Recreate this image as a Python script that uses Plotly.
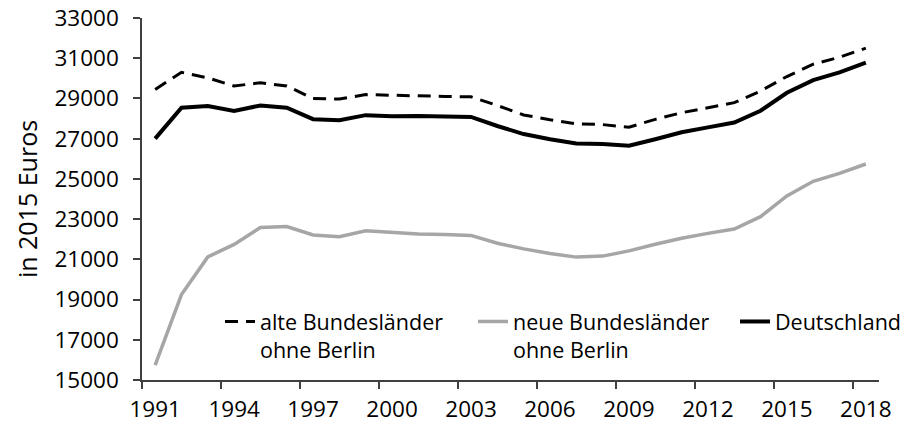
import plotly.graph_objects as go

years = list(range(1991, 2019))
alte = [29450, 30300, 30020, 29620, 29780, 29620, 29000, 28970, 29190, 29150, 29120, 29100, 29080, 28650,
        28180, 27940, 27740, 27700, 27570, 27960, 28290, 28540, 28790, 29370, 30090, 30700, 31050, 31500]
neue = [15740, 19250, 21120, 21740, 22580, 22630, 22210, 22120, 22420, 22330, 22260, 22240, 22190, 21800,
        21520, 21290, 21110, 21160, 21420, 21750, 22050, 22290, 22510, 23120, 24150, 24880, 25270, 25740]
deutsch = [27000, 28540, 28620, 28380, 28650, 28540, 27970, 27920, 28170, 28120, 28130, 28090, 28080, 27630,
           27230, 26970, 26760, 26730, 26650, 26970, 27320, 27560, 27800, 28390, 29280, 29910, 30300, 30780]
names = ["alte Bundesländer<br>ohne Berlin", "neue Bundesländer<br>ohne Berlin", "Deutschland"]
x_labels = list(range(1991, 2019, 3))
y_ticks = list(range(15000, 33001, 2000))

FONT = "Open Sans"
FS = 22.5
LFS = 21.5
fig = go.Figure()
fig.add_trace(go.Scatter(x=years, y=alte, mode="lines", name=names[0],
                         line=dict(color="black", width=3, dash="13px,8px"), legend="legend"))
fig.add_trace(go.Scatter(x=years, y=neue, mode="lines", name=names[1],
                         line=dict(color="#A6A6A6", width=3.5), legend="legend2"))
fig.add_trace(go.Scatter(x=years, y=deutsch, mode="lines", name=names[2],
                         line=dict(color="black", width=4), legend="legend3"))

PW, PH = 737, 362
leg_common = dict(orientation="v", valign="top", bgcolor="rgba(0,0,0,0)",
                  font=dict(family=FONT, size=LFS, color="black"),
                  xref="paper", yref="paper", xanchor="left", yanchor="top",
                  itemwidth=30, tracegroupgap=0)
fig.update_layout(
    width=904, height=416,
    margin=dict(l=134, r=33, t=10, b=44, autoexpand=False),
    paper_bgcolor="white", plot_bgcolor="white",
    font=dict(family=FONT, size=FS, color="black"),
    showlegend=True,
    legend=dict(x=(220 - 142) / PW, y=(380 - 301) / PH, **leg_common),
    legend2=dict(x=(473 - 142) / PW, y=(380 - 301) / PH, **leg_common),
    legend3=dict(x=(735 - 142) / PW, y=(380 - 301) / PH, **leg_common),
    xaxis=dict(range=[1990.5, 2018.5], tickvals=x_labels, ticktext=[str(v) for v in x_labels],
               ticks="", showline=True, linecolor="#404040", linewidth=1.5, showgrid=False,
               zeroline=False, ticklabelstandoff=8, automargin=False,
               minor=dict(ticks="outside", tick0=1990.5, dtick=3, ticklen=7,
                          tickcolor="#404040", tickwidth=1.5, showgrid=False),
               tickfont=dict(family=FONT, size=FS)),
    yaxis=dict(range=[15000, 33000], tickvals=y_ticks, tickformat="d",
               ticks="outside", ticklen=7, tickcolor="#404040", tickwidth=1.5,
               showline=True, linecolor="#404040", linewidth=1.5, showgrid=False,
               zeroline=False, ticklabelstandoff=10, automargin=False,
               ticklabeloverflow="allow",
               title=dict(text="in 2015 Euros", font=dict(family=FONT, size=25), standoff=10),
               tickfont=dict(family=FONT, size=FS)),
)
fig.write_html("out.html")
